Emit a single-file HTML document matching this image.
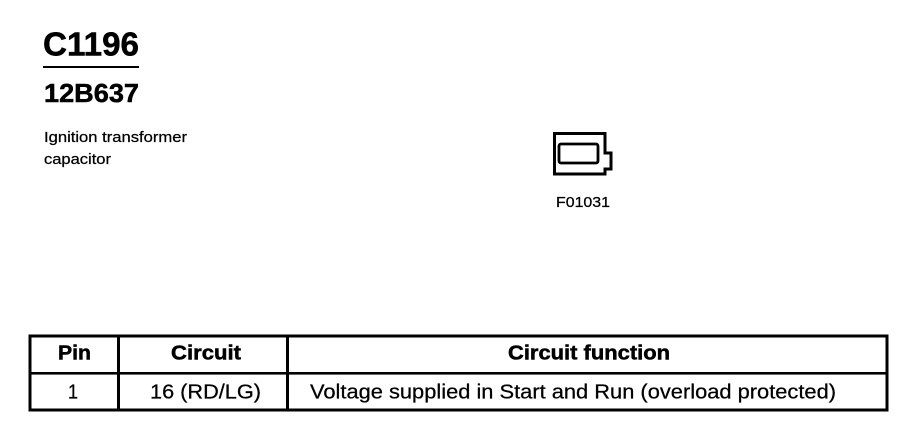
<!DOCTYPE html>
<html><head><meta charset="utf-8"><style>
html,body{margin:0;padding:0;background:#fff;width:898px;height:448px;overflow:hidden}
svg{display:block}
text{font-family:"Liberation Sans",sans-serif;fill:#000;stroke:#000;stroke-width:.25px}
text.b{stroke-width:.5px}
</style></head><body>
<svg width="898" height="448" viewBox="0 0 898 448" xmlns="http://www.w3.org/2000/svg">
<text class="b" x="43" y="55.5" font-size="33" font-weight="700" textLength="96" lengthAdjust="spacingAndGlyphs">C1196</text>
<rect x="43" y="66" width="96" height="2" fill="#000"/>
<text class="b" x="44" y="102" font-size="26" font-weight="700" textLength="95" lengthAdjust="spacingAndGlyphs">12B637</text>
<text x="44" y="142" font-size="14.5" textLength="143" lengthAdjust="spacingAndGlyphs">Ignition transformer</text>
<text x="44" y="164" font-size="14.5" textLength="67" lengthAdjust="spacingAndGlyphs">capacitor</text>
<path d="M605 153V133.500H554.500V174H605V169H611V153Z" fill="none" stroke="#000" stroke-width="3"/>
<rect x="559" y="144" width="39" height="19" rx="2" fill="none" stroke="#000" stroke-width="2.8"/>
<text x="556" y="207" font-size="14.5" textLength="54" lengthAdjust="spacingAndGlyphs">F01031</text>
<rect x="30" y="336" width="857" height="74" fill="none" stroke="#000" stroke-width="3"/>
<rect x="30" y="372" width="857" height="2.6" fill="#000"/>
<rect x="117" y="336" width="3" height="74" fill="#000"/>
<rect x="286" y="336" width="3" height="74" fill="#000"/>
<text class="b" x="58" y="359.500" font-size="20" font-weight="700" textLength="33" lengthAdjust="spacingAndGlyphs">Pin</text>
<text class="b" x="171" y="359.500" font-size="20" font-weight="700" textLength="70" lengthAdjust="spacingAndGlyphs">Circuit</text>
<text class="b" x="508" y="359.500" font-size="20" font-weight="700" textLength="162" lengthAdjust="spacingAndGlyphs">Circuit function</text>
<text x="68" y="398.500" font-size="20" textLength="10" lengthAdjust="spacingAndGlyphs">1</text>
<text x="150" y="398.500" font-size="20" textLength="111" lengthAdjust="spacingAndGlyphs">16 (RD/LG)</text>
<text x="310" y="398.500" font-size="20" textLength="526" lengthAdjust="spacingAndGlyphs">Voltage supplied in Start and Run (overload protected)</text>
</svg>
</body></html>
